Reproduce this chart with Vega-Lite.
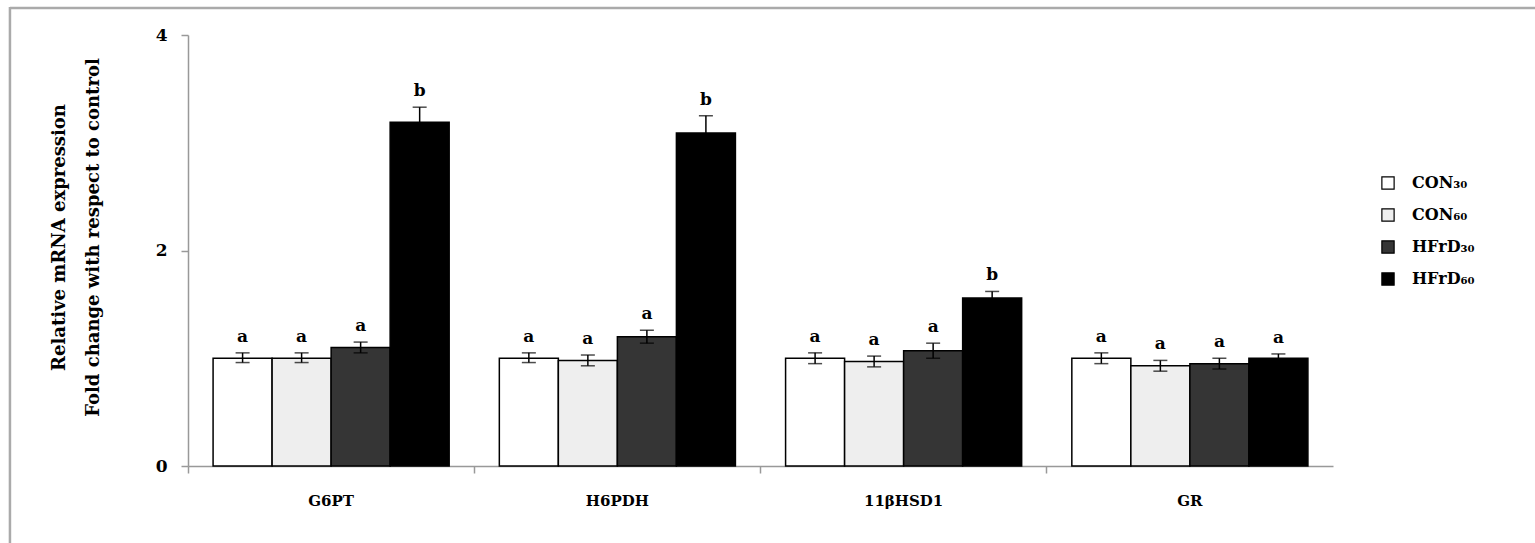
{
  "$schema": "https://vega.github.io/schema/vega-lite/v6.json",
  "autosize": {"type": "none"},
  "width": 1145,
  "height": 431,
  "padding": {"left": 188, "top": 35, "right": 202, "bottom": 77},
  "background": "white",
  "config": {
    "view": {"stroke": null},
    "font": "DejaVu Serif"
  },
  "data": {
    "values": [
      {"gene": "G6PT", "group": "CON₃₀", "mean": 1.0, "lo": 0.96, "hi": 1.05, "sig": "a"},
      {"gene": "G6PT", "group": "CON₆₀", "mean": 1.0, "lo": 0.96, "hi": 1.05, "sig": "a"},
      {"gene": "G6PT", "group": "HFrD₃₀", "mean": 1.1, "lo": 1.05, "hi": 1.15, "sig": "a"},
      {"gene": "G6PT", "group": "HFrD₆₀", "mean": 3.19, "lo": 3.05, "hi": 3.33, "sig": "b"},
      {"gene": "H6PDH", "group": "CON₃₀", "mean": 1.0, "lo": 0.96, "hi": 1.05, "sig": "a"},
      {"gene": "H6PDH", "group": "CON₆₀", "mean": 0.98, "lo": 0.93, "hi": 1.03, "sig": "a"},
      {"gene": "H6PDH", "group": "HFrD₃₀", "mean": 1.2, "lo": 1.14, "hi": 1.26, "sig": "a"},
      {"gene": "H6PDH", "group": "HFrD₆₀", "mean": 3.09, "lo": 2.93, "hi": 3.25, "sig": "b"},
      {"gene": "11βHSD1", "group": "CON₃₀", "mean": 1.0, "lo": 0.95, "hi": 1.05, "sig": "a"},
      {"gene": "11βHSD1", "group": "CON₆₀", "mean": 0.97, "lo": 0.92, "hi": 1.02, "sig": "a"},
      {"gene": "11βHSD1", "group": "HFrD₃₀", "mean": 1.07, "lo": 1.0, "hi": 1.14, "sig": "a"},
      {"gene": "11βHSD1", "group": "HFrD₆₀", "mean": 1.56, "lo": 1.5, "hi": 1.62, "sig": "b"},
      {"gene": "GR", "group": "CON₃₀", "mean": 1.0, "lo": 0.95, "hi": 1.05, "sig": "a"},
      {"gene": "GR", "group": "CON₆₀", "mean": 0.93, "lo": 0.88, "hi": 0.98, "sig": "a"},
      {"gene": "GR", "group": "HFrD₃₀", "mean": 0.95, "lo": 0.9, "hi": 1.0, "sig": "a"},
      {"gene": "GR", "group": "HFrD₆₀", "mean": 1.0, "lo": 0.96, "hi": 1.04, "sig": "a"}
    ]
  },
  "layer": [
    {
      "data": {"values": [{}]},
      "mark": {"type": "rule", "color": "#aaaaaa", "strokeWidth": 2.5},
      "encoding": {
        "x": {"datum": -0.1555, "type": "quantitative", "scale": {"domain": [0, 1]}, "axis": null},
        "x2": {"datum": 1.2},
        "y": {"datum": 4.25, "type": "quantitative", "scale": {"domain": [0, 4]}}
      }
    },
    {
      "data": {"values": [{}]},
      "mark": {"type": "rule", "color": "#aaaaaa", "strokeWidth": 2.5},
      "encoding": {
        "x": {"datum": -0.1555, "type": "quantitative", "scale": {"domain": [0, 1]}, "axis": null},
        "y": {"datum": 4.26, "type": "quantitative"},
        "y2": {"datum": -0.75}
      }
    },
    {
      "encoding": {
        "x": {
          "field": "gene", "type": "nominal", "sort": null,
          "scale": {"paddingInner": 0, "paddingOuter": 0},
          "axis": {
            "title": null, "bandPosition": 0, "labelAngle": 0,
            "domainColor": "#999999", "domainWidth": 1.5, "tickColor": "#999999", "tickWidth": 1.5, "tickSize": 7,
            "labelFont": "DejaVu Serif", "labelFontWeight": "bold", "labelFontSize": 15, "labelColor": "black",
            "labelPadding": 20
          }
        },
        "xOffset": {"field": "group", "type": "nominal", "sort": null, "scale": {"paddingOuter": 0.425, "paddingInner": 0}}
      },
      "layer": [
        {
          "mark": {"type": "bar", "stroke": "black", "strokeWidth": 1.5},
          "encoding": {
            "y": {
              "field": "mean", "type": "quantitative",
              "scale": {"domain": [0, 4], "nice": false},
              "axis": {
                "values": [0, 2, 4], "grid": false, "format": "d",
                "title": ["Relative mRNA expression", "Fold change with respect to control"],
                "titleFont": "DejaVu Serif", "titleFontWeight": "bold", "titleFontSize": 18, "titleColor": "black",
                "titleLineHeight": 34, "titleX": -120, "titleY": 202, "titleBaseline": "bottom",
                "domainColor": "#999999", "domainWidth": 1.5, "tickColor": "#999999", "tickWidth": 1.5, "tickSize": 7,
                "labelFont": "DejaVu Serif", "labelFontWeight": "bold", "labelFontSize": 17, "labelColor": "black",
                "labelPadding": 14
              }
            },
            "fill": {
              "field": "group", "type": "nominal", "sort": null,
              "scale": {"domain": ["CON₃₀", "CON₆₀", "HFrD₃₀", "HFrD₆₀"], "range": ["#ffffff", "#eeeeee", "#353535", "#000000"]},
              "legend": {
                "title": null, "orient": "none", "legendX": 1192, "legendY": 140,
                "symbolType": "square", "symbolSize": 150, "symbolStrokeColor": "black", "symbolStrokeWidth": 1.2,
                "labelFont": "DejaVu Serif", "labelFontWeight": "bold", "labelFontSize": 16, "labelColor": "black",
                "labelOffset": 16, "rowPadding": 14
              }
            }
          }
        },
        {
          "mark": {"type": "rule", "color": "black", "strokeWidth": 1.5},
          "encoding": {
            "y": {"field": "lo", "type": "quantitative"},
            "y2": {"field": "hi"}
          }
        },
        {
          "mark": {"type": "tick", "color": "black", "size": 14, "thickness": 1.5},
          "encoding": {
            "y": {"field": "hi", "type": "quantitative"}
          }
        },
        {
          "mark": {"type": "tick", "color": "black", "size": 14, "thickness": 1.5},
          "encoding": {
            "y": {"field": "lo", "type": "quantitative"}
          }
        },
        {
          "mark": {"type": "text", "font": "DejaVu Serif", "fontWeight": "bold", "fontSize": 17, "baseline": "bottom", "dy": -7, "color": "black"},
          "encoding": {
            "y": {"field": "hi", "type": "quantitative"},
            "text": {"field": "sig"}
          }
        }
      ]
    }
  ],
  "resolve": {"scale": {"x": "independent"}}
}
